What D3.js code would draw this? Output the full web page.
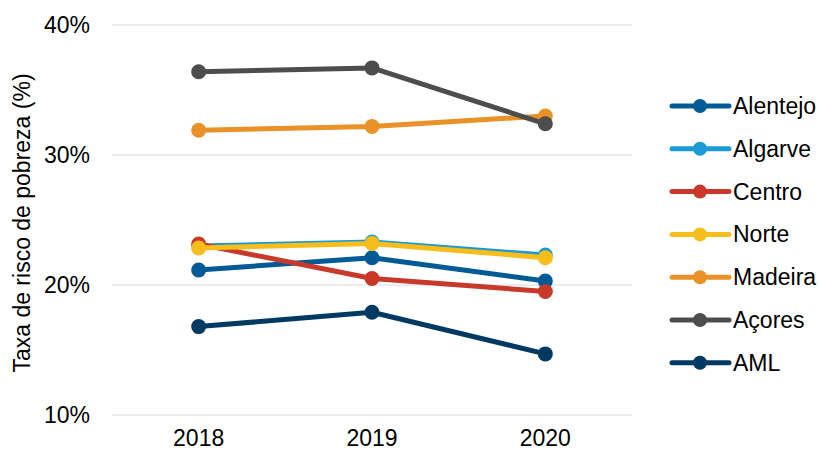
<!DOCTYPE html>
<html>
<head>
<meta charset="utf-8">
<script src="https://cdn.jsdelivr.net/npm/d3@7"></script>
<style>
  body { margin: 0; background: #fff; }
  text { font-family: "Liberation Sans", Arial, sans-serif; fill: #000; }
</style>
</head>
<body>
<div id="chart"></div>
<script>
// data
const years = ["2018", "2019", "2020"];
const regions = ["Alentejo", "Algarve", "Centro", "Norte", "Madeira", "Açores", "AML"];
const alentejo = [21.15, 22.1, 20.3];
const algarve = [23.0, 23.3, 22.3];
const centro = [23.15, 20.5, 19.5];
const norte = [22.85, 23.2, 22.1];
const madeira = [31.9, 32.2, 33.0];
const acores = [36.4, 36.7, 32.4];
const aml = [16.8, 17.9, 14.7];
const yTicks = [10, 20, 30, 40];
const colors = ["#005a96", "#1a9ad6", "#c8392a", "#f7be1b", "#ea9127", "#4d4d4d", "#003a63"];

const seriesValues = [alentejo, algarve, centro, norte, madeira, acores, aml];

const W = 819, H = 452;
const margin = {top: 25, right: 187, bottom: 37, left: 112};

const svg = d3.select("#chart").append("svg")
    .attr("width", W)
    .attr("height", H);

const x = d3.scaleBand()
    .domain(years)
    .range([margin.left, W - margin.right]);

const y = d3.scaleLinear()
    .domain([10, 40])
    .range([H - margin.bottom, margin.top]);

// gridlines
svg.append("g")
    .selectAll("line")
    .data(yTicks)
    .join("line")
    .attr("x1", margin.left)
    .attr("x2", W - margin.right)
    .attr("y1", d => y(d))
    .attr("y2", d => y(d))
    .attr("stroke", "#d9d9d9")
    .attr("stroke-width", 1);

// y axis labels
svg.append("g")
    .selectAll("text")
    .data(yTicks)
    .join("text")
    .attr("x", 90)
    .attr("y", d => y(d))
    .attr("dy", "0.35em")
    .attr("text-anchor", "end")
    .style("font-size", "23px")
    .text(d => d + "%");

// x axis labels
svg.append("g")
    .selectAll("text")
    .data(years)
    .join("text")
    .attr("x", d => x(d) + x.bandwidth() / 2)
    .attr("y", 446)
    .attr("text-anchor", "middle")
    .style("font-size", "23px")
    .text(d => d);

// y title
svg.append("text")
    .attr("transform", "translate(30,223) rotate(-90)")
    .attr("text-anchor", "middle")
    .style("font-size", "23px")
    .text("Taxa de risco de pobreza (%)");

const line = d3.line()
    .x((d, i) => x(years[i]) + x.bandwidth() / 2)
    .y(d => y(d));

seriesValues.forEach((vals, k) => {
    const g = svg.append("g");
    g.append("path")
        .datum(vals)
        .attr("d", line)
        .attr("fill", "none")
        .attr("stroke", colors[k])
        .attr("stroke-width", 5)
        .attr("stroke-linejoin", "round");
    g.selectAll("circle")
        .data(vals)
        .join("circle")
        .attr("cx", (d, i) => x(years[i]) + x.bandwidth() / 2)
        .attr("cy", d => y(d))
        .attr("r", 7.5)
        .attr("fill", colors[k]);
});

// legend
const legend = svg.append("g")
    .selectAll("g")
    .data(regions)
    .join("g")
    .attr("transform", (d, i) => `translate(672,${106 + i * 42.8})`);

legend.append("line")
    .attr("x1", 0).attr("x2", 57)
    .attr("stroke", (d, i) => colors[i])
    .attr("stroke-width", 5)
    .attr("stroke-linecap", "round");
legend.append("circle")
    .attr("cx", 28)
    .attr("r", 7)
    .attr("fill", (d, i) => colors[i]);
legend.append("text")
    .attr("x", 61)
    .attr("dy", "0.35em")
    .style("font-size", "23px")
    .text(d => d);
</script>
</body>
</html>
